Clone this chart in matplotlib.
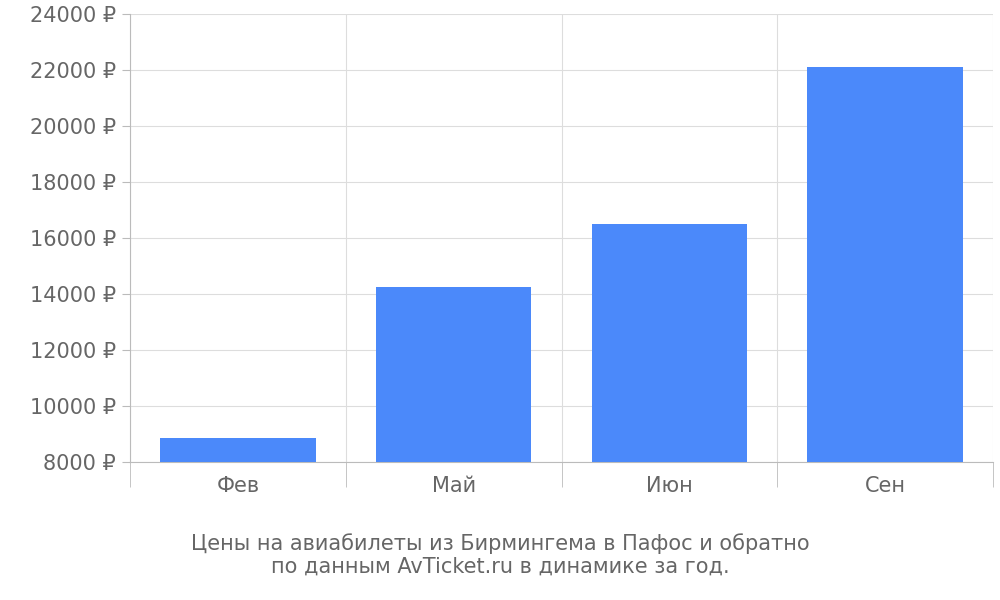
import matplotlib
matplotlib.use("Agg")
import matplotlib.pyplot as plt
from matplotlib.ticker import FixedLocator

categories = ["Фев", "Май", "Июн", "Сен"]
values = [8850, 14250, 16500, 22100]
yticks = list(range(8000, 24001, 2000))

fig = plt.figure(figsize=(10, 6), dpi=100)
ax = fig.add_axes([0.130, 0.230, 0.863, 0.747])
x = list(range(len(categories)))
ax.bar(x, values, width=0.72, color="#4b89fa", zorder=3)
ax.set_xlim(-0.5, len(categories) - 0.5)
ax.set_ylim(8000, 24000)
ax.set_yticks(yticks)
ax.set_yticklabels([f"{v} ₽" for v in yticks])
ax.set_xticks(x)
ax.set_xticklabels(categories)
ax.xaxis.set_minor_locator(FixedLocator([i - 0.5 for i in range(len(categories) + 1)]))
ax.tick_params(axis="x", which="major", length=0, pad=10, labelsize=15, colors="#666666")
ax.tick_params(axis="x", which="minor", length=18, color="#bbbbbb")
ax.tick_params(axis="y", length=6, color="#bbbbbb", labelsize=15, colors="#666666", pad=4)
ax.grid(axis="y", color="#dddddd", zorder=0)
ax.grid(axis="x", which="minor", color="#dddddd", zorder=0)
for s in ["top", "right"]:
    ax.spines[s].set_visible(False)
for s in ["left", "bottom"]:
    ax.spines[s].set_color("#bbbbbb")
fig.text(0.5, 0.075, "Цены на авиабилеты из Бирмингема в Пафос и обратно\nпо данным AvTicket.ru в динамике за год.",
         ha="center", va="center", fontsize=15, color="#666666", linespacing=1.2)
fig.savefig("out.png", dpi=100)
